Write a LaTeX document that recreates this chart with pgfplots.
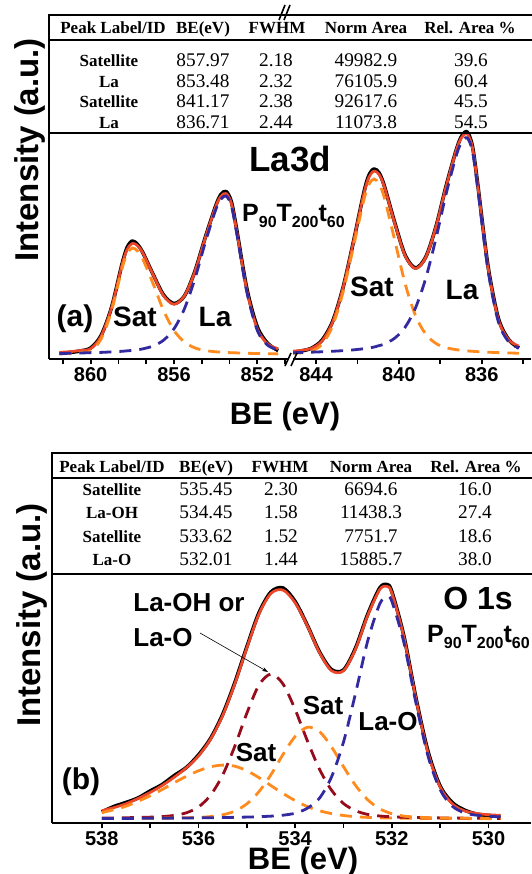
\documentclass[border=0pt]{standalone}
\usepackage{fontspec}
\setmainfont{Liberation Serif}
\newfontfamily\arial{Liberation Sans}
\usepackage{pgfplots}
\pgfplotsset{compat=1.18}
\usetikzlibrary{arrows.meta}
\definecolor{fitred}{RGB}{238,70,40}
\definecolor{satorange}{RGB}{255,138,30}
\definecolor{lablue}{RGB}{52,42,160}
\definecolor{ohred}{RGB}{150,12,28}
\newcommand{\af}[1]{\arial\bfseries\fontsize{#1}{#1}\selectfont}
\newcommand{\tb}{\bfseries\fontsize{17}{17}\selectfont}
\newcommand{\tn}{\fontsize{19.3}{19.3}\selectfont}
\newcommand{\sub}[1]{\raisebox{-6pt}{\fontsize{16}{16}\selectfont #1}}
\newcommand{\ptt}{P\sub{90}T\sub{200}t\sub{60}}
\pgfplotsset{
 xps/.style={scale only axis, anchor=south west, x dir=reverse, ymin=0,
   axis x line*=bottom, axis line style={-, line width=2.5pt},
   ytick=\empty, tick align=outside, major tick length=5.5pt, minor tick length=5.5pt,
   tick style={black, line width=1.8pt},
   xticklabel style={font=\af{20}},
   /pgf/number format/assume math mode=true},
 datal/.style={black, line width=3.6pt, smooth, line join=round},
 fitl/.style={fitred, line width=2.7pt, smooth, line join=round},
 dashl/.style={line width=2.8pt, smooth, dash pattern=on 12pt off 8pt},
}
\begin{document}
\begin{tikzpicture}[x=1pt,y=1pt]
\path[use as bounding box] (0,0) rectangle (531,874);

% ---------------- panel (a), left segment
\begin{axis}[xps, at={(49pt,515pt)}, width=240pt, height=344pt,
  xmin=850.48, xmax=862, ymax=344, axis y line*=left,
  xtick={852,856,860}, minor xtick={850.667,853.333,854.667,857.333,858.667,861.333}]
\addplot[datal] coordinates {(861.5,5.5)(861,6.5)(860.5,8.0)(860,11.0)(859.5,23.5)(859,51.5)(858.5,94.5)(858.25,111.5)(858,118.0)(857.75,114.5)(857.5,106.5)(857,84.5)(856.5,64.0)(856,55.5)(855.5,63.0)(855,87.5)(854.5,121.5)(854,153.0)(853.75,164.5)(853.5,167.5)(853.25,157.5)(853,130.5)(852.5,70.0)(852,32.0)(851.5,15.5)(851,8.5)};
\addplot[fitl] coordinates {(861.5,6.7)(861,7.3)(860.5,8.5)(860,10.3)(859.5,22.6)(859,51.1)(858.5,93.7)(858.25,109.6)(858,115.6)(857.75,113.3)(857.5,106.1)(857,84.2)(856.5,63.2)(856,54.7)(855.5,63.1)(855,87.1)(854.5,120.9)(854,152.3)(853.75,162.7)(853.5,165.5)(853.25,155.8)(853,129.1)(852.5,68.3)(852,30.0)(851.5,15.0)(851,10.3)};
\addplot[dashl, satorange] coordinates {(861.5,5.2)(861,5.6)(860.5,6.5)(860,8.0)(859.5,20)(859,48)(858.5,90)(858.25,105.4)(858,111)(857.75,108)(857.5,100)(857,75.2)(856.5,48.4)(856,28.5)(855.5,16.9)(855,11.1)(854.5,8.5)(854,7.2)(853.75,6.85)(853.5,6.5)(853.25,6.3)(853,6.1)(852.5,5.7)(852,5.5)(851.5,5.3)(851,5.1)};
\addplot[dashl, lablue] coordinates {(861.5,5.5)(861,5.7)(860.5,6.0)(860,6.3)(859.5,6.6)(859,7.1)(858.5,7.7)(858.25,8.15)(858,8.6)(857.75,9.3)(857.5,10.1)(857,13.0)(856.5,18.8)(856,30.2)(855.5,50.2)(855,80.0)(854.5,116.4)(854,149.1)(853.75,159.8)(853.5,163)(853.25,153.5)(853,127)(852.5,66.6)(852,28.5)(851.5,13.7)(851,9.2)};
\end{axis}

% ---------------- panel (a), right segment
\begin{axis}[xps, at={(293pt,515pt)}, width=238pt, height=344pt,
  xmin=833.62, xmax=845.11, ymax=344, hide y axis,
  xtick={836,840,844}, minor xtick={834,838,842}]
\addplot[datal] coordinates {(845.2,6.5)(844.7,8.0)(844.2,11.0)(843.7,19.0)(843.2,37.5)(842.7,71.0)(842.2,116.5)(841.7,165.5)(841.45,183.5)(841.2,190.0)(840.95,186.0)(840.7,173.0)(840.2,136.5)(839.7,104.0)(839.2,91.0)(838.7,102.0)(838.2,133.0)(837.7,174.5)(837.2,211.0)(836.95,223.5)(836.7,227.0)(836.45,213.0)(836.2,176.0)(835.7,93.5)(835.2,41.0)(834.7,19.5)(834.2,11.0)};
\addplot[fitl] coordinates {(845.2,7.7)(844.7,8.7)(844.2,10.8)(843.7,18.2)(843.2,36.7)(842.7,70.6)(842.2,116.4)(841.7,164.4)(841.45,181.4)(841.2,187.9)(840.95,184.4)(840.7,172.2)(840.2,135.7)(839.7,103.3)(839.2,90.5)(838.7,101.6)(838.2,132.7)(837.7,173.9)(837.2,210.5)(836.95,222.0)(836.7,225.1)(836.45,211.7)(836.2,175.2)(835.7,92.3)(835.2,39.8)(834.7,19.2)(834.2,12.9)};
\addplot[dashl, satorange] coordinates {(845.2,5.5)(844.7,6.2)(844.2,8.0)(843.7,15.0)(843.2,33.0)(842.7,66.3)(842.2,111.3)(841.7,158.2)(841.45,174.4)(841.2,180.0)(840.95,175.0)(840.7,161.2)(840.2,118.9)(839.7,75.6)(839.2,43.6)(838.7,24.75)(838.2,15.42)(837.7,11.22)(837.2,9.23)(836.95,8.67)(836.7,8.10)(836.45,7.7)(836.2,7.34)(835.7,6.80)(835.2,6.36)(834.7,6.03)(834.2,5.76)};
\addplot[dashl, lablue] coordinates {(845.2,6.23)(844.7,6.50)(844.2,6.83)(843.7,7.23)(843.2,7.72)(842.7,8.33)(842.2,9.12)(841.7,10.23)(841.45,11.0)(841.2,11.94)(840.95,13.4)(840.7,14.98)(840.2,20.8)(839.7,31.7)(839.2,50.9)(838.7,80.8)(838.2,121.3)(837.7,166.7)(837.2,205.3)(836.95,217.3)(836.7,221)(836.45,208)(836.2,171.9)(835.7,89.5)(835.2,37.4)(834.7,17.2)(834.2,11.1)};
\end{axis}

% ---------------- panel (b)
\begin{axis}[xps, at={(52pt,51pt)}, width=479pt, height=370pt,
  xmin=529.12, xmax=539.03, ymax=370, axis y line*=left,
  xtick={530,532,534,536,538}, minor xtick={531,533,535,537}]
\addplot[datal] coordinates {(538,11.0)(537.75,16.5)(537.5,20.5)(537.25,25.0)(537,32.0)(536.75,38.5)(536.5,47.5)(536.25,55.5)(536,68.0)(535.75,84.5)(535.5,108.5)(535.25,140.0)(535,176.0)(534.75,210.0)(534.5,231.0)(534.25,235.0)(534,221.5)(533.75,198.0)(533.5,171.5)(533.25,153.5)(533,153.0)(532.75,175.0)(532.5,208.5)(532.25,235.0)(532.1,238.5)(532,231.5)(531.75,187.0)(531.5,125.0)(531.25,71.5)(531,37.0)(530.75,20.5)(530.5,13.0)(530.25,9.0)(530,7.5)(529.75,6.5)};
\addplot[fitl] coordinates {(538,12.3)(537.75,15.4)(537.5,19.2)(537.25,24.5)(537,30.5)(536.75,37.5)(536.5,45.8)(536.25,55.2)(536,66.9)(535.75,83.7)(535.5,107.3)(535.25,138.8)(535,174.9)(534.75,208.7)(534.5,229.6)(534.25,232.9)(534,220.2)(533.75,197.5)(533.5,170.8)(533.25,152.4)(533,152.2)(532.75,173.9)(532.5,207.3)(532.25,233.4)(532.1,236.6)(532,230.2)(531.75,185.9)(531.5,123.9)(531.25,70.0)(531,36.0)(530.75,19.2)(530.5,12.2)(530.25,9.6)(530,8.3)(529.75,7.7)};
\addplot[dashl, satorange] coordinates {(538,10.4)(537.75,13.3)(537.5,16.8)(537.25,21.7)(537,27.2)(536.75,33.5)(536.5,40.3)(536.25,46.7)(536,52.2)(535.75,56.2)(535.5,57.9)(535.25,56.8)(535,52.3)(534.75,45.4)(534.5,37.4)(534.25,29.5)(534,22.4)(533.75,16.5)(533.5,12.3)(533.25,9.4)(533,7.5)(532.75,6.3)(532.5,5.6)(532.25,5.1)(532,4.9)(531.75,4.8)(531.5,4.65)(531.25,4.57)(531,4.5)(530.75,4.45)(530.5,4.41)(530.25,4.37)(530,4.34)(529.75,4.31)};
\addplot[dashl, ohred] coordinates {(538,4.96)(537.75,5.1)(537.5,5.28)(537.25,5.5)(537,5.86)(536.75,6.4)(536.5,7.6)(536.25,10.2)(536,16.0)(535.75,27.8)(535.5,47.8)(535.25,76.5)(535,109.6)(534.75,137.8)(534.5,149)(534.25,139)(534,113.5)(533.75,82.6)(533.5,54.2)(533.25,33.0)(533,19.5)(532.75,12.3)(532.5,8.6)(532.25,7.0)(532,6.2)(531.75,5.7)(531.5,5.46)(531.25,5.25)(531,5.09)(530.75,4.96)(530.5,4.84)(530.25,4.75)(530,4.68)(529.75,4.62)};
\addplot[dashl, satorange] coordinates {(538,4.44)(537.75,4.5)(537.5,4.56)(537.25,4.64)(537,4.74)(536.75,4.83)(536.5,5.0)(536.25,5.27)(536,5.6)(535.75,6.4)(535.5,8.2)(535.25,11.8)(535,19.1)(534.75,31.2)(534.5,48.3)(534.25,68.6)(534,86.5)(533.75,95.7)(533.5,91.7)(533.25,76.3)(533,56.4)(532.75,37.6)(532.5,23.3)(532.25,14.2)(532,9.3)(531.75,6.9)(531.5,5.9)(531.25,5.4)(531,5.08)(530.75,4.91)(530.5,4.78)(530.25,4.68)(530,4.6)(529.75,4.52)};
\addplot[dashl, lablue] coordinates {(538,4.49)(537.75,4.53)(537.5,4.58)(537.25,4.64)(537,4.71)(536.75,4.78)(536.5,4.89)(536.25,4.98)(536,5.1)(535.75,5.27)(535.5,5.44)(535.25,5.67)(535,5.93)(534.75,6.3)(534.5,6.85)(534.25,7.8)(534,9.8)(533.75,14.7)(533.5,24.6)(533.25,45.7)(533,80.8)(532.75,129.7)(532.5,181.8)(532.25,219.1)(532.1,226)(532,221.8)(531.75,180.5)(531.5,119.9)(531.25,66.8)(531,33.3)(530.75,16.9)(530.5,10.2)(530.25,7.8)(530,6.7)(529.75,6.2)};
\end{axis}

% ---------------- frames and tables
\draw[line width=2.5pt] (47.75,859) -- (533,859);
\draw[line width=1.2pt] (49,834) -- (533,834);
\draw[line width=2pt] (49,741) -- (533,741);
\draw[line width=2.5pt] (50.75,421) -- (533,421);
\draw[line width=1.2pt] (52,396) -- (533,396);
\draw[line width=2pt] (52,300) -- (533,300);
% axis breaks
\draw[line width=1.6pt] (285,508) -- (291,521);
\draw[line width=1.6pt] (291,508) -- (297,521);
\draw[line width=1.6pt] (279,854) -- (285,869);
\draw[line width=1.6pt] (284,854) -- (290,869);

% table (a)
\node[anchor=base] at (113,840) {\tb Peak Label/ID};
\node[anchor=base] at (203,840) {\tb BE(eV)};
\node[anchor=base] at (277,840) {\tb FWHM};
\node[anchor=base] at (366,840) {\tb Norm Area};
\node[anchor=base] at (470,840) {\tb Rel. Area \%};
\node[anchor=base] at (109,807) {\tb Satellite};
\node[anchor=base] at (109,786) {\tb La};
\node[anchor=base] at (109,766) {\tb Satellite};
\node[anchor=base] at (109,745) {\tb La};
\node[anchor=base] at (203,807) {\tn 857.97};
\node[anchor=base] at (203,786) {\tn 853.48};
\node[anchor=base] at (203,766) {\tn 841.17};
\node[anchor=base] at (203,745) {\tn 836.71};
\node[anchor=base] at (276,807) {\tn 2.18};
\node[anchor=base] at (276,786) {\tn 2.32};
\node[anchor=base] at (276,766) {\tn 2.38};
\node[anchor=base] at (276,745) {\tn 2.44};
\node[anchor=base] at (366,807) {\tn 49982.9};
\node[anchor=base] at (366,786) {\tn 76105.9};
\node[anchor=base] at (366,766) {\tn 92617.6};
\node[anchor=base] at (366,745) {\tn 11073.8};
\node[anchor=base] at (471,807) {\tn 39.6};
\node[anchor=base] at (471,786) {\tn 60.4};
\node[anchor=base] at (471,766) {\tn 45.5};
\node[anchor=base] at (471,745) {\tn 54.5};

% table (b)
\node[anchor=base] at (112,401) {\tb Peak Label/ID};
\node[anchor=base] at (206,401) {\tb BE(eV)};
\node[anchor=base] at (280,401) {\tb FWHM};
\node[anchor=base] at (371,401) {\tb Norm Area};
\node[anchor=base] at (476,401) {\tb Rel. Area \%};
\node[anchor=base] at (112,378) {\tb Satellite};
\node[anchor=base] at (112,355) {\tb La-OH};
\node[anchor=base] at (112,331) {\tb Satellite};
\node[anchor=base] at (112,308) {\tb La-O};
\node[anchor=base] at (206,378) {\tn 535.45};
\node[anchor=base] at (206,355) {\tn 534.45};
\node[anchor=base] at (206,331) {\tn 533.62};
\node[anchor=base] at (206,308) {\tn 532.01};
\node[anchor=base] at (281,378) {\tn 2.30};
\node[anchor=base] at (281,355) {\tn 1.58};
\node[anchor=base] at (281,331) {\tn 1.52};
\node[anchor=base] at (281,308) {\tn 1.44};
\node[anchor=base] at (371,378) {\tn 6694.6};
\node[anchor=base] at (371,355) {\tn 11438.3};
\node[anchor=base] at (371,331) {\tn 7751.7};
\node[anchor=base] at (371,308) {\tn 15885.7};
\node[anchor=base] at (475,378) {\tn 16.0};
\node[anchor=base] at (475,355) {\tn 27.4};
\node[anchor=base] at (475,331) {\tn 18.6};
\node[anchor=base] at (475,308) {\tn 38.0};

% axis labels
\node[rotate=90, anchor=base] at (38,724) {\af{33}Intensity (a.u.)};
\node[rotate=90, anchor=base] at (40,259) {\af{33}Intensity (a.u.)};
\node[anchor=base] at (285,449) {\af{31}BE (eV)};
\node[anchor=base] at (303,5) {\af{31}BE (eV)};

% annotations (a)
\node[anchor=base] at (290,702) {\af{35}La3d};
\node[anchor=base west, inner sep=0pt] at (242,652) {\af{25}\ptt};
\node[anchor=base] at (75,547) {\af{30}(a)};
\node[anchor=base] at (135,547) {\af{28}Sat};
\node[anchor=base] at (215,547) {\af{28}La};
\node[anchor=base] at (372,577) {\af{28}Sat};
\node[anchor=base] at (462,574) {\af{28}La};

% annotations (b)
\node[anchor=base] at (189,262) {\af{26}La-OH or};
\node[anchor=base] at (163,227) {\af{26}La-O};
\draw[-{Stealth[length=6pt,width=4pt]}, line width=0.6pt] (200,241) -- (268,202);
\node[anchor=base] at (478,264) {\af{32}O 1s};
\node[anchor=base west, inner sep=0pt] at (427,231) {\af{25}\ptt};
\node[anchor=base] at (323,159) {\af{26}Sat};
\node[anchor=base] at (388,143) {\af{26}La-O};
\node[anchor=base] at (256,112) {\af{26}Sat};
\node[anchor=base] at (81,84) {\af{30}(b)};
\end{tikzpicture}
\end{document}
